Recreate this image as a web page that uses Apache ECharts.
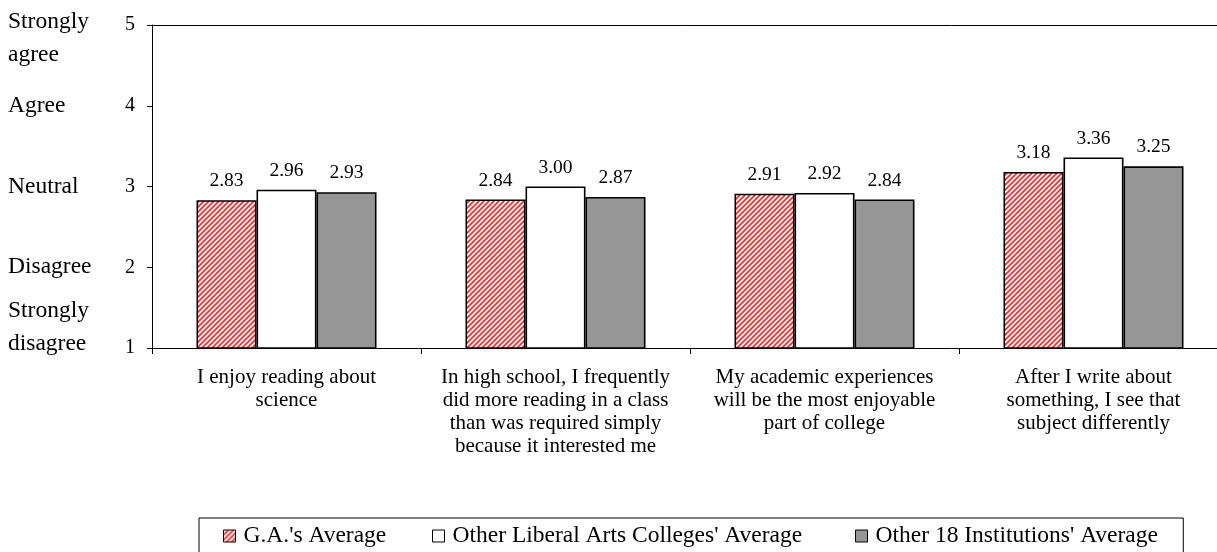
<!DOCTYPE html>
<html>
<head>
<meta charset="utf-8">
<style>
  html, body { margin: 0; padding: 0; background: #fff; }
  #chart { width: 1217px; height: 552px; }
</style>
<script src="https://cdn.jsdelivr.net/npm/echarts@6/dist/echarts.min.js"></script>
</head>
<body>
<div id="chart"></div>
<script>
// Survey statements (category axis)
var statements = [
  'I enjoy reading about\nscience',
  'In high school, I frequently\ndid more reading in a class\nthan was required simply\nbecause it interested me',
  'My academic experiences\nwill be the most enjoyable\npart of college',
  'After I write about\nsomething, I see that\nsubject differently'
];

// Series names
var seriesNames = [
  "G.A.'s Average",
  "Other Liberal Arts Colleges' Average",
  "Other 18 Institutions' Average"
];

// Average responses per statement
var gaAvg = [2.83, 2.84, 2.91, 3.18];
var liberalArtsAvg = [2.96, 3.00, 2.92, 3.36];
var institutionsAvg = [2.93, 2.87, 2.84, 3.25];

// Response scale
var scaleValues = [1, 2, 3, 4, 5];
var scaleNames = ['Strongly\ndisagree', 'Disagree', 'Neutral', 'Agree', 'Strongly\nagree'];

var FONT = '"Liberation Serif", "Times New Roman", serif';

// Red diagonal hatch fill
function hatchPattern() {
  var p = 5;
  var c = document.createElement('canvas');
  c.width = p; c.height = p;
  var ctx = c.getContext('2d');
  ctx.fillStyle = '#ffffff';
  ctx.fillRect(0, 0, p, p);
  ctx.strokeStyle = '#ff2a2a';
  ctx.lineWidth = 1.7;
  ctx.beginPath();
  ctx.moveTo(-1, p + 1); ctx.lineTo(p + 1, -1);
  ctx.moveTo(-1, 1); ctx.lineTo(1, -1);
  ctx.moveTo(p - 1, p + 1); ctx.lineTo(p + 1, p - 1);
  ctx.stroke();
  return { image: c, repeat: 'repeat' };
}

// Label for a scale point, with spacer lines to nudge two-line names
function scaleLabel(value) {
  var idx = scaleValues.indexOf(value);
  if (idx < 0) return '';
  var lines = scaleNames[idx].split('\n').map(function (s) { return '{n|' + s + '}'; });
  if (value === 5) return '{sa| }\n' + lines.join('\n');
  if (value === 1) return lines.join('\n') + '\n{sd| }';
  return lines.join('\n');
}

// One legend entry per column; the first one carries the frame
function legendEntry(i, left, framed) {
  return {
    left: left, top: 518,
    orient: 'horizontal',
    data: [seriesNames[i]],
    borderColor: framed ? '#000' : 'transparent',
    borderWidth: framed ? 1 : 0,
    padding: framed ? [6, 797, 10, 24] : [6, 0, 10, 0],
    itemWidth: 12, itemHeight: 12,
    icon: 'rect',
    itemStyle: { borderColor: '#000', borderWidth: 1 },
    textStyle: { color: '#000', fontFamily: FONT, fontSize: 23.5, padding: [0, 0, 0, 3] }
  };
}

var chart = echarts.init(document.getElementById('chart'), null, { renderer: 'canvas' });

var barBorder = { borderColor: '#000', borderWidth: 1.6 };
var valueLabel = {
  show: true,
  position: 'top',
  distance: 9,
  color: '#000',
  fontFamily: FONT,
  fontSize: 19.5,
  formatter: function (p) { return p.value.toFixed(2); }
};

chart.setOption({
  animation: false,
  backgroundColor: '#fff',
  grid: {
    left: 152, top: 25, width: 1076, height: 323,
    outerBoundsMode: 'none', containLabel: false,
    show: false
  },
  legend: [
    legendEntry(0, 199, true),
    legendEntry(1, 432, false),
    legendEntry(2, 855, false)
  ],
  xAxis: [
    {
      type: 'category',
      data: statements,
      axisLine: { show: true, lineStyle: { color: '#000', width: 1 } },
      axisTick: { show: true, length: 6, alignWithLabel: false, lineStyle: { color: '#000' } },
      axisLabel: {
        interval: 0, margin: 18, color: '#000',
        fontFamily: FONT, fontSize: 21, lineHeight: 23, align: 'center'
      },
      splitLine: { show: false }
    },
    {
      // plot-area top edge
      type: 'category', position: 'top',
      data: statements,
      axisLine: { show: true, lineStyle: { color: '#000', width: 1 } },
      axisTick: { show: false }, axisLabel: { show: false }, splitLine: { show: false }
    }
  ],
  yAxis: [
    {
      type: 'value', min: 1, max: 5, interval: 1,
      axisLine: { show: true, lineStyle: { color: '#000', width: 1 } },
      axisTick: { show: true, length: 5, lineStyle: { color: '#000' } },
      axisLabel: { margin: 17, color: '#000', fontFamily: FONT, fontSize: 20 },
      splitLine: { show: false }
    },
    {
      type: 'value', min: 1, max: 5, interval: 1, position: 'left',
      axisLine: { show: false }, axisTick: { show: false }, splitLine: { show: false },
      axisLabel: {
        margin: 144, align: 'left', color: '#000',
        formatter: scaleLabel,
        rich: {
          n: { fontFamily: FONT, fontSize: 23.5, lineHeight: 33, color: '#000' },
          sa: { fontSize: 10, lineHeight: 27 },
          sd: { fontSize: 10, lineHeight: 41 }
        }
      }
    }
  ],
  series: [
    {
      name: seriesNames[0], type: 'bar', yAxisIndex: 0, xAxisIndex: 0,
      data: gaAvg, barWidth: 60, barGap: '0%',
      itemStyle: Object.assign({ color: hatchPattern() }, barBorder),
      label: valueLabel
    },
    {
      name: seriesNames[1], type: 'bar', yAxisIndex: 0, xAxisIndex: 0,
      data: liberalArtsAvg, barWidth: 60, barGap: '0%',
      itemStyle: Object.assign({ color: '#ffffff' }, barBorder),
      label: valueLabel
    },
    {
      name: seriesNames[2], type: 'bar', yAxisIndex: 0, xAxisIndex: 0,
      data: institutionsAvg, barWidth: 60, barGap: '0%',
      itemStyle: Object.assign({ color: '#969696' }, barBorder),
      label: valueLabel
    }
  ]
});
</script>
</body>
</html>
